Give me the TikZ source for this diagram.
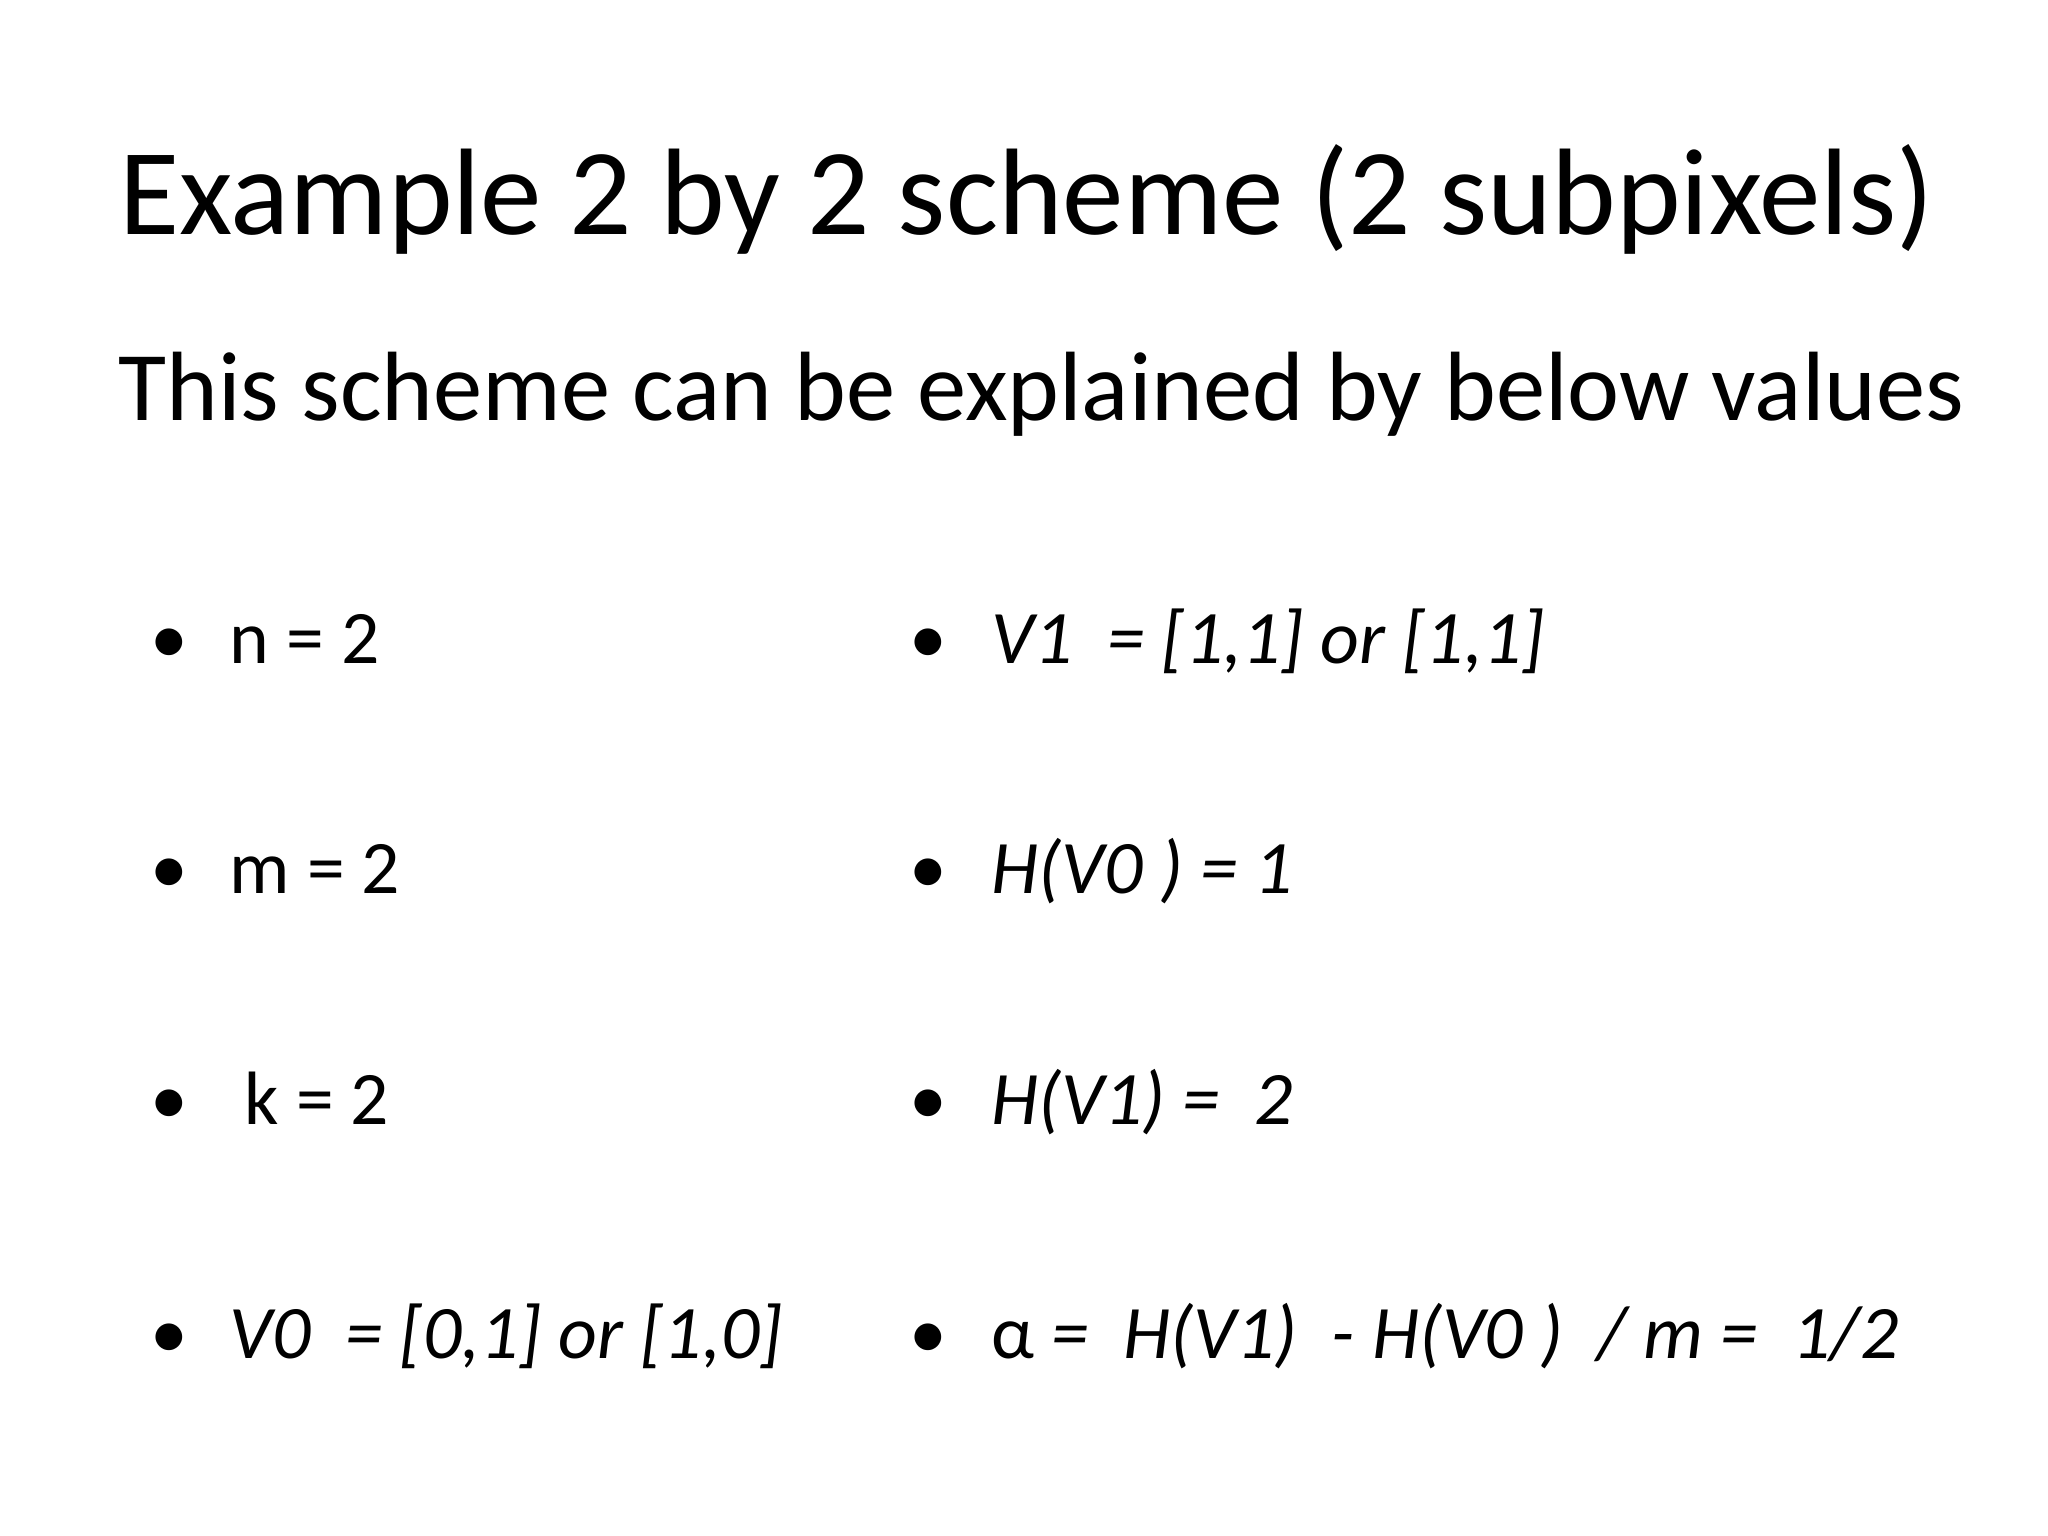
\documentclass[tikz,border=0pt]{standalone}
\usepackage{fontspec}
\setmainfont{Carlito}
\begin{document}
\begin{tikzpicture}[x=0.01cm,y=-0.01cm,
  title/.style={font=\fontsize{35}{40}\selectfont, anchor=base, inner sep=0},
  sub/.style={font=\fontsize{28}{32}\selectfont, anchor=base west, inner sep=0},
  item/.style={font=\fontsize{21.5}{25}\selectfont, anchor=base west, inner sep=0},
  it/.style={item, font=\fontsize{21.5}{25}\selectfont\itshape}]
\useasboundingbox (0,0) rectangle (2048,1536);
\node[title] (t) at (1027,234) {Example 2 by 2 scheme (2 subpixels)};
\node[sub] (s) at (118,420) {This scheme can be explained by below values};
\foreach \y/\n in {663/a,893/b,1124/c,1358/d}{
  \node[item] (bl\n) at (150,\y) {•};
  \node[item] (br\n) at (909,\y) {•};
}
\node[item] (l1) at (229,663) {n = 2};
\node[item] (l2) at (229,893) {m = 2};
\node[item] (l3) at (244,1124) {k = 2};
\node[it] (l4) at (229,1358) {V0\ \ = [0,1] or [1,0]};
\node[it] (r1) at (991,663) {V1\ \ = [1,1] or [1,1]};
\node[it] (r2) at (991,893) {H(V0 ) = 1};
\node[it] (r3) at (991,1124) {H(V1) =\ \ 2};
\node[it] (r4) at (991,1358) {{\upshape α} =\ \ H(V1)\ \ - H(V0 )\ \ / m =\ \ 1/2};
\end{tikzpicture}
\end{document}
